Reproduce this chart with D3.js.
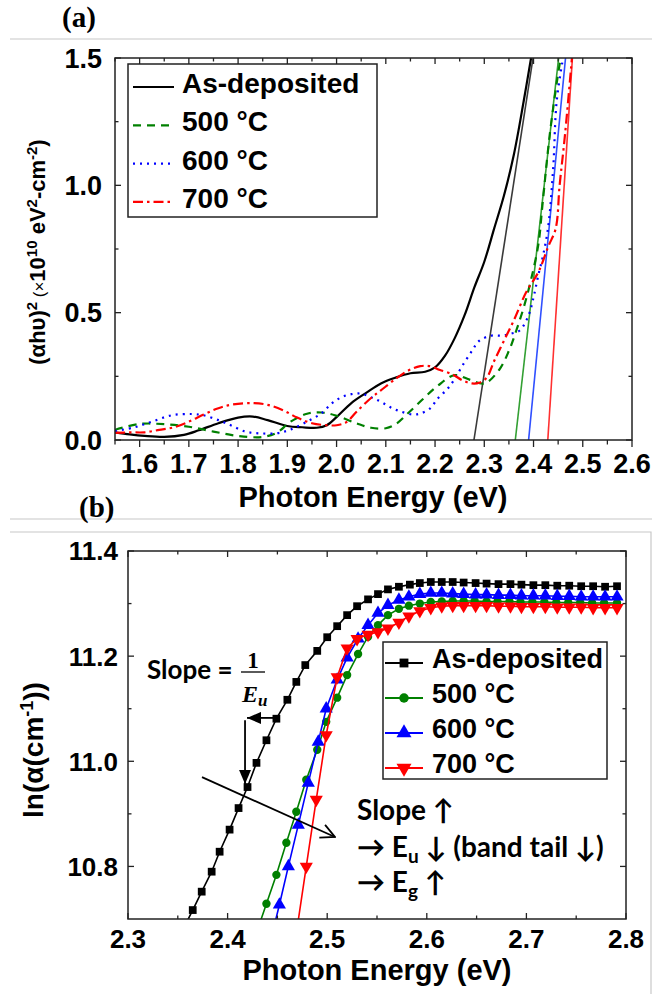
<!DOCTYPE html>
<html>
<head>
<meta charset="utf-8">
<script src="https://cdn.jsdelivr.net/npm/d3@7"></script>
<style>
  body { margin: 0; background: #fff; }
  svg { display: block; }
  text { font-family: 'Liberation Sans', Arial, sans-serif; font-weight: bold; fill: #000; }
  .frame { fill: none; stroke: #222; stroke-width: 1.5; }
  .tick { stroke: #222; stroke-width: 1.3; }
  .sep { stroke: #c8c8c8; stroke-width: 1.2; fill: none; }
  .note { font-family: Lato, 'Open Sans', sans-serif; font-weight: bold; }
</style>
</head>
<body>
<div id="chart"></div>
<script>
// ---------- panel (a): Tauc plot, (alpha h nu)^2 in 1e10 eV^2 cm^-2 ----------
const seriesNames = ['As-deposited', '500 °C', '600 °C', '700 °C'];

const taucAsDep = [[1.55,0.030],[1.58,0.022],[1.61,0.016],[1.65,0.012],[1.69,0.020],[1.72,0.038],
  [1.76,0.066],[1.80,0.088],[1.83,0.092],[1.86,0.078],[1.90,0.055],[1.93,0.050],[1.96,0.048],
  [1.98,0.058],[2.00,0.090],[2.03,0.145],[2.06,0.185],[2.09,0.222],[2.12,0.245],[2.15,0.262],
  [2.18,0.268],[2.20,0.285],[2.22,0.330],[2.24,0.400],[2.26,0.490],[2.28,0.600],[2.30,0.700],
  [2.32,0.830],[2.34,0.960],[2.36,1.120],[2.38,1.330],[2.395,1.500]];
const tauc500 = [[1.55,0.040],[1.60,0.063],[1.65,0.062],[1.70,0.052],[1.75,0.033],[1.80,0.016],
  [1.85,0.012],[1.88,0.030],[1.905,0.070],[1.94,0.103],[1.97,0.108],[2.00,0.095],[2.04,0.066],
  [2.07,0.048],[2.10,0.046],[2.12,0.062],[2.145,0.105],[2.175,0.160],[2.205,0.212],[2.24,0.255],
  [2.27,0.237],[2.30,0.222],[2.33,0.275],[2.35,0.350],[2.365,0.430],[2.38,0.520],[2.395,0.630],
  [2.41,0.770],[2.418,0.920],[2.433,1.200],[2.447,1.400],[2.455,1.500]];
const tauc600 = [[1.55,0.035],[1.59,0.050],[1.625,0.072],[1.665,0.097],[1.705,0.102],[1.73,0.097],
  [1.76,0.078],[1.785,0.058],[1.815,0.033],[1.845,0.026],[1.88,0.027],[1.905,0.040],[1.94,0.072],
  [1.97,0.106],[1.99,0.143],[2.01,0.168],[2.03,0.180],[2.05,0.182],[2.07,0.168],[2.09,0.150],
  [2.11,0.128],[2.13,0.112],[2.155,0.100],[2.17,0.104],[2.19,0.124],[2.205,0.162],[2.225,0.200],
  [2.24,0.240],[2.255,0.290],[2.275,0.350],[2.29,0.390],[2.315,0.410],[2.335,0.410],[2.355,0.418],
  [2.372,0.430],[2.39,0.490],[2.40,0.560],[2.41,0.650],[2.42,0.730],[2.43,0.840],[2.44,1.070],
  [2.447,1.330],[2.46,1.500]];
const tauc700 = [[1.55,0.028],[1.58,0.030],[1.61,0.030],[1.64,0.040],[1.67,0.050],[1.70,0.072],
  [1.73,0.100],[1.76,0.125],[1.79,0.140],[1.83,0.145],[1.86,0.138],[1.89,0.118],[1.92,0.088],
  [1.95,0.066],[1.98,0.058],[2.00,0.058],[2.02,0.070],[2.04,0.110],[2.07,0.165],[2.09,0.195],
  [2.12,0.240],[2.145,0.272],[2.17,0.290],[2.19,0.290],[2.21,0.275],[2.235,0.258],[2.255,0.235],
  [2.275,0.222],[2.29,0.225],[2.305,0.245],[2.32,0.310],[2.34,0.390],[2.36,0.470],[2.385,0.580],
  [2.41,0.660],[2.43,0.760],[2.445,0.830],[2.453,1.000],[2.464,1.200],[2.478,1.500]];
// linear extrapolations of the band edge (Eg intercepts)
const taucFits = [[[2.279,0],[2.399,1.5]], [[2.363,0],[2.451,1.5]],
  [[2.390,0],[2.465,1.5]], [[2.429,0],[2.479,1.5]]];

const xTicksA = [1.6,1.7,1.8,1.9,2.0,2.1,2.2,2.3,2.4,2.5,2.6];
const xMinorA = [1.55,1.65,1.75,1.85,1.95,2.05,2.15,2.25,2.35,2.45,2.55];
const yTicksA = [0.0,0.5,1.0,1.5];
const yMinorA = [0.25,0.75,1.25];

// ---------- panel (b): Urbach plot, ln(alpha) ----------
const urbachAsDep = [[2.356,10.683],[2.365,10.717],[2.374,10.752],[2.384,10.790],[2.392,10.828],
  [2.402,10.870],[2.411,10.911],[2.420,10.951],[2.429,10.997],[2.439,11.040],[2.449,11.081],
  [2.460,11.117],[2.469,11.151],[2.478,11.183],[2.490,11.210],[2.500,11.236],[2.510,11.257],
  [2.520,11.278],[2.530,11.295],[2.541,11.308],[2.551,11.318],[2.561,11.327],[2.572,11.332],
  [2.583,11.336],[2.593,11.339],[2.604,11.341],[2.615,11.341],[2.626,11.341],[2.637,11.340],
  [2.649,11.339],[2.660,11.338],[2.672,11.337],[2.684,11.337],[2.695,11.336],[2.707,11.335],
  [2.719,11.335],[2.731,11.334],[2.743,11.334],[2.755,11.333],[2.767,11.333],[2.779,11.332],
  [2.791,11.333]];
const urbach500 = [[2.429,10.674],[2.439,10.729],[2.449,10.784],[2.459,10.845],[2.469,10.904],
  [2.479,10.965],[2.490,11.022],[2.499,11.075],[2.510,11.121],[2.520,11.164],[2.531,11.204],
  [2.541,11.237],[2.551,11.259],[2.561,11.278],[2.572,11.290],[2.582,11.296],[2.593,11.300],
  [2.604,11.303],[2.615,11.304],[2.626,11.305],[2.637,11.305],[2.648,11.305],[2.660,11.304],
  [2.671,11.304],[2.683,11.304],[2.694,11.303],[2.706,11.303],[2.718,11.303],[2.730,11.302],
  [2.742,11.302],[2.754,11.302],[2.766,11.301],[2.778,11.301],[2.791,11.301]];
const urbach600 = [[2.442,10.650],[2.452,10.727],[2.461,10.800],[2.471,10.879],[2.481,10.959],
  [2.491,11.037],[2.499,11.100],[2.510,11.155],[2.520,11.197],[2.531,11.233],[2.541,11.259],
  [2.551,11.282],[2.561,11.297],[2.572,11.307],[2.582,11.313],[2.593,11.318],[2.604,11.320],
  [2.615,11.320],[2.626,11.319],[2.637,11.318],[2.649,11.317],[2.660,11.317],[2.672,11.316],
  [2.684,11.316],[2.695,11.315],[2.707,11.315],[2.719,11.315],[2.731,11.314],[2.743,11.314],
  [2.755,11.313],[2.767,11.313],[2.779,11.313],[2.791,11.313]];
const urbach700 = [[2.468,10.660],[2.479,10.800],[2.489,10.927],[2.499,11.050],[2.510,11.160],
  [2.520,11.215],[2.530,11.233],[2.541,11.241],[2.551,11.246],[2.561,11.253],[2.572,11.264],
  [2.582,11.276],[2.593,11.286],[2.604,11.292],[2.615,11.295],[2.626,11.296],[2.637,11.296],
  [2.649,11.296],[2.660,11.296],[2.672,11.295],[2.684,11.295],[2.695,11.294],[2.707,11.294],
  [2.719,11.294],[2.731,11.293],[2.743,11.293],[2.755,11.293],[2.767,11.292],[2.779,11.292],
  [2.791,11.292]];

const xTicksB = [2.3,2.4,2.5,2.6,2.7,2.8];
const xMinorB = [2.35,2.45,2.55,2.65,2.75];
const yTicksB = [10.8,11.0,11.2,11.4];
const yMinorB = [10.9,11.1,11.3];

// ---------- styles ----------
const colors = ['#000000', '#008000', '#0000ff', '#ff0000'];
const fitColors = ['#3a3a3a', '#33a033', '#3050ff', '#ff3030'];
const dashes = [null, '8,6', '2,5', '10,4,2.5,4'];
const symbols = [d3.symbolSquare, d3.symbolCircle, d3.symbolTriangle, d3.symbolTriangle];
const symbolSizes = [60, 55, 75, 75];
const symbolRot = [0, 0, 0, 180];

const svg = d3.select('#chart').append('svg')
    .attr('width', 652)
    .attr('height', 994);

// thin grey separators around the two panels
svg.append('line').attr('class', 'sep').attr('x1', 10).attr('x2', 652).attr('y1', 39).attr('y2', 39);
svg.append('line').attr('class', 'sep').attr('x1', 10).attr('x2', 652).attr('y1', 519).attr('y2', 519);
svg.append('path').attr('class', 'sep').attr('d', 'M10,532H651V994');

svg.append('text').attr('x', 62).attr('y', 27)
    .style('font-family', "'Liberation Serif', 'Times New Roman', serif")
    .style('font-size', '29px').text('(a)');
svg.append('text').attr('x', 79).attr('y', 517)
    .style('font-family', "'Liberation Serif', 'Times New Roman', serif")
    .style('font-size', '29px').text('(b)');

/**
 * Draws the boxed frame with inward ticks (bottom ticks optionally outward) and tick labels.
 */
function drawFrame(cfg) {
  const x = cfg.x, y = cfg.y;
  const [x0, x1] = x.range();
  const [y0, y1] = y.range();
  const g = svg.append('g');
  const out = cfg.bottomOut ? 1 : -1;

  const xt = [...cfg.xMajor.map(d => ({v: d, len: 6})), ...cfg.xMinor.map(d => ({v: d, len: 3.5}))];
  const yt = [...cfg.yMajor.map(d => ({v: d, len: 6})), ...cfg.yMinor.map(d => ({v: d, len: 3.5}))];

  g.selectAll('.tb').data(xt).join('line').attr('class', 'tick tb')
      .attr('x1', d => x(d.v)).attr('x2', d => x(d.v))
      .attr('y1', y0).attr('y2', d => y0 + out * (cfg.bottomOut ? d.len + 1 : d.len));
  g.selectAll('.tt').data(xt).join('line').attr('class', 'tick tt')
      .attr('x1', d => x(d.v)).attr('x2', d => x(d.v))
      .attr('y1', y1).attr('y2', d => y1 + d.len);
  g.selectAll('.tl').data(yt).join('line').attr('class', 'tick tl')
      .attr('x1', x0).attr('x2', d => x0 + d.len)
      .attr('y1', d => y(d.v)).attr('y2', d => y(d.v));
  g.selectAll('.tr').data(yt).join('line').attr('class', 'tick tr')
      .attr('x1', x1).attr('x2', d => x1 - d.len)
      .attr('y1', d => y(d.v)).attr('y2', d => y(d.v));

  g.append('rect').attr('class', 'frame')
      .attr('x', x0).attr('y', y1).attr('width', x1 - x0).attr('height', y0 - y1);

  g.selectAll('.xl').data(cfg.xMajor).join('text').attr('class', 'xl')
      .attr('x', d => x(d)).attr('y', cfg.xLabelY)
      .attr('text-anchor', 'middle').style('font-size', cfg.fontSize + 'px')
      .text(d => d3.format('.1f')(d));
  g.selectAll('.yl').data(cfg.yMajor).join('text').attr('class', 'yl')
      .attr('x', x0 - cfg.yLabelGap).attr('y', d => y(d)).attr('dy', '0.36em')
      .attr('text-anchor', 'end').style('font-size', cfg.fontSize + 'px')
      .text(d => d3.format('.1f')(d));
}

function addClip(id, x, y) {
  const [x0, x1] = x.range();
  const [y0, y1] = y.range();
  svg.append('clipPath').attr('id', id).append('rect')
      .attr('x', x0).attr('y', y1).attr('width', x1 - x0).attr('height', y0 - y1);
}

// ======================= panel (a) =======================
const xA = d3.scaleLinear().domain([1.55, 2.6]).range([115, 632]);
const yA = d3.scaleLinear().domain([0, 1.5]).range([440, 58]);
addClip('clipA', xA, yA);

const lineA = d3.line().x(d => xA(d[0])).y(d => yA(d[1])).curve(d3.curveCatmullRom.alpha(0.5));
const fitLine = d3.line().x(d => xA(d[0])).y(d => yA(d[1]));
const plotA = svg.append('g').attr('clip-path', 'url(#clipA)');

plotA.selectAll('.fit').data(taucFits).join('path').attr('class', 'fit')
    .attr('d', fitLine).attr('fill', 'none')
    .attr('stroke', (d, i) => fitColors[i]).attr('stroke-width', 1.6);

plotA.selectAll('.tauc').data([taucAsDep, tauc500, tauc600, tauc700]).join('path').attr('class', 'tauc')
    .attr('d', lineA).attr('fill', 'none')
    .attr('stroke', (d, i) => colors[i]).attr('stroke-width', 2.2)
    .attr('stroke-dasharray', (d, i) => dashes[i]);

drawFrame({x: xA, y: yA, xMajor: xTicksA, xMinor: xMinorA, yMajor: yTicksA, yMinor: yMinorA,
  bottomOut: true, xLabelY: 473, yLabelGap: 13, fontSize: 27});

// legend (a)
const legA = svg.append('g');
legA.append('rect').attr('class', 'frame').attr('x', 128).attr('y', 64).attr('width', 249).attr('height', 153);
const rowsA = legA.selectAll('.row').data(seriesNames).join('g').attr('class', 'row')
    .attr('transform', (d, i) => `translate(0,${93 + i * 38.3})`);
rowsA.append('line').attr('x1', 133).attr('x2', 174).attr('y1', -6).attr('y2', -6)
    .attr('stroke', (d, i) => colors[i]).attr('stroke-width', 2.2)
    .attr('stroke-dasharray', (d, i) => dashes[i]);
rowsA.append('text').attr('x', 182).attr('y', 0).style('font-size', '28px').text(d => d);

// axis titles (a)
svg.append('text').attr('x', 373).attr('y', 507).attr('text-anchor', 'middle')
    .style('font-size', '29px').text('Photon Energy (eV)');
const yTitleA = svg.append('text').attr('transform', 'translate(45,252) rotate(-90)')
    .attr('text-anchor', 'middle').style('font-size', '22px');
yTitleA.append('tspan').text('(αhυ)');
yTitleA.append('tspan').attr('dy', -8).style('font-size', '15px').text('2');
yTitleA.append('tspan').attr('dy', 8).style('font-weight', 'normal').style('font-size', '17px').text(' (×');
yTitleA.append('tspan').text('10');
yTitleA.append('tspan').attr('dy', -8).style('font-size', '15px').text('10');
yTitleA.append('tspan').attr('dy', 8).text(' eV');
yTitleA.append('tspan').attr('dy', -8).style('font-size', '15px').text('2');
yTitleA.append('tspan').attr('dy', 8).text('-cm');
yTitleA.append('tspan').attr('dy', -8).style('font-size', '15px').text('-2');
yTitleA.append('tspan').attr('dy', 8).text(')');

// ======================= panel (b) =======================
const xB = d3.scaleLinear().domain([2.3, 2.8]).range([128, 626]);
const yB = d3.scaleLinear().domain([10.7, 11.4]).range([919, 551]);
addClip('clipB', xB, yB);

const lineB = d3.line().x(d => xB(d[0])).y(d => yB(d[1]));
const plotB = svg.append('g').attr('clip-path', 'url(#clipB)');
const urbach = [urbachAsDep, urbach500, urbach600, urbach700];

urbach.forEach((series, i) => {
  const g = plotB.append('g');
  g.append('path').attr('d', lineB(series)).attr('fill', 'none')
      .attr('stroke', colors[i]).attr('stroke-width', 1.6);
  g.selectAll('path.mk').data(series).join('path').attr('class', 'mk')
      .attr('d', d3.symbol(symbols[i], symbolSizes[i]))
      .attr('transform', d => `translate(${xB(d[0])},${yB(d[1])}) rotate(${symbolRot[i]})`)
      .attr('fill', colors[i]);
});

drawFrame({x: xB, y: yB, xMajor: xTicksB, xMinor: xMinorB, yMajor: yTicksB, yMinor: yMinorB,
  bottomOut: false, xLabelY: 948, yLabelGap: 10, fontSize: 26});

// legend (b)
const legB = svg.append('g');
legB.append('rect').attr('class', 'frame').attr('x', 383).attr('y', 642).attr('width', 224).attr('height', 137);
const rowsB = legB.selectAll('.row').data(seriesNames).join('g').attr('class', 'row')
    .attr('transform', (d, i) => `translate(0,${668 + i * 35})`);
rowsB.append('line').attr('x1', 385).attr('x2', 423).attr('y1', -5).attr('y2', -5)
    .attr('stroke', (d, i) => colors[i]).attr('stroke-width', 1.8);
rowsB.append('path')
    .attr('d', (d, i) => d3.symbol(symbols[i], symbolSizes[i] * 1.3)())
    .attr('transform', (d, i) => `translate(404,-5) rotate(${symbolRot[i]})`)
    .attr('fill', (d, i) => colors[i]);
rowsB.append('text').attr('x', 432).attr('y', 0).style('font-size', '27px').text(d => d);

// axis titles (b)
svg.append('text').attr('x', 377).attr('y', 980).attr('text-anchor', 'middle')
    .style('font-size', '29px').text('Photon Energy (eV)');
const yTitleB = svg.append('text').attr('transform', 'translate(43,750) rotate(-90)')
    .attr('text-anchor', 'middle').style('font-size', '28px');
yTitleB.append('tspan').text('ln(α(cm');
yTitleB.append('tspan').attr('dy', -10).style('font-size', '18px').text('-1');
yTitleB.append('tspan').attr('dy', 10).text('))');

// annotations (b)
const defs = svg.append('defs');
defs.append('marker').attr('id', 'headFill').attr('viewBox', '0 0 14 12')
    .attr('refX', 14).attr('refY', 6).attr('markerWidth', 14).attr('markerHeight', 12)
    .attr('markerUnits', 'userSpaceOnUse').attr('orient', 'auto')
  .append('path').attr('d', 'M0,0L14,6L0,12Z').attr('fill', '#000');
defs.append('marker').attr('id', 'headOpen').attr('viewBox', '0 0 16 16')
    .attr('refX', 15).attr('refY', 8).attr('markerWidth', 16).attr('markerHeight', 16)
    .attr('markerUnits', 'userSpaceOnUse').attr('orient', 'auto')
  .append('path').attr('d', 'M1,1L15,8L1,15').attr('fill', 'none').attr('stroke', '#000').attr('stroke-width', 1.8);

const ann = svg.append('g');
ann.append('line')
    .attr('x1', xB(2.4506)).attr('y1', yB(11.0825)).attr('x2', xB(2.4195)).attr('y2', yB(11.0825))
    .attr('stroke', '#000').attr('stroke-width', 1.8).attr('marker-end', 'url(#headFill)');
ann.append('line')
    .attr('x1', xB(2.4175)).attr('y1', yB(11.078)).attr('x2', xB(2.4175)).attr('y2', yB(10.957))
    .attr('stroke', '#000').attr('stroke-width', 1.8).attr('marker-end', 'url(#headFill)');
ann.append('line')
    .attr('x1', xB(2.3743)).attr('y1', yB(10.970)).attr('x2', xB(2.5078)).attr('y2', yB(10.856))
    .attr('stroke', '#000').attr('stroke-width', 1.8).attr('marker-end', 'url(#headOpen)');

ann.append('text').attr('class', 'note').attr('x', 147).attr('y', 679).style('font-size', '26px').text('Slope =');
ann.append('text').attr('x', 253).attr('y', 668).attr('text-anchor', 'middle')
    .style('font-family', "'Liberation Serif', serif").style('font-size', '23px').text('1');
ann.append('line').attr('x1', 241).attr('x2', 265).attr('y1', 672).attr('y2', 672)
    .attr('stroke', '#000').attr('stroke-width', 1.3);
const eu = ann.append('text').attr('x', 242).attr('y', 702)
    .style('font-family', "'Liberation Serif', serif").style('font-style', 'italic').style('font-size', '24px');
eu.append('tspan').text('E');
eu.append('tspan').attr('dy', 4).style('font-size', '17px').text('u');

const notes = ann.append('g');
notes.append('text').attr('class', 'note').attr('x', 357).attr('y', 820)
    .style('font-size', '28px').text('Slope ↑');
const l2 = notes.append('text').attr('class', 'note').attr('x', 357).attr('y', 857).style('font-size', '28px');
l2.append('tspan').text('→ E');
l2.append('tspan').attr('dy', 6).style('font-size', '19px').text('u');
l2.append('tspan').attr('dy', -6).text(' ↓ (band tail ↓)');
const l3 = notes.append('text').attr('class', 'note').attr('x', 357).attr('y', 892).style('font-size', '28px');
l3.append('tspan').text('→ E');
l3.append('tspan').attr('dy', 6).style('font-size', '19px').text('g');
l3.append('tspan').attr('dy', -6).text(' ↑');
</script>
</body>
</html>
